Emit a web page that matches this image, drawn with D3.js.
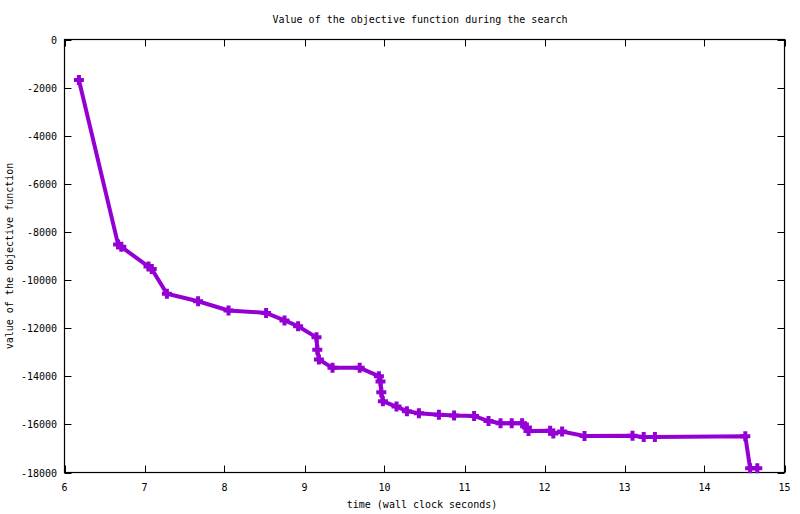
<!DOCTYPE html>
<html>
<head>
<meta charset="utf-8">
<script src="https://cdn.jsdelivr.net/npm/d3@7"></script>
<style>
body{margin:0;background:#fff;}
text{font-family:"DejaVu Sans Mono",monospace;font-size:10px;fill:#000;}
</style>
</head>
<body>
<svg id="chart" width="800" height="514"></svg>
<script>
const timeValues = [6.18, 6.67, 6.71, 7.05, 7.09, 7.28, 7.67, 8.05, 8.52, 8.75, 8.92, 9.15, 9.16, 9.18, 9.35, 9.69, 9.93, 9.95, 9.96, 9.98, 10.15, 10.28, 10.43, 10.68, 10.87, 11.12, 11.30, 11.45, 11.59, 11.72, 11.78, 11.80, 12.07, 12.11, 12.22, 12.50, 13.10, 13.24, 13.38, 14.51, 14.57, 14.66];
const objectiveValues = [-1680, -8520, -8620, -9440, -9540, -10570, -10880, -11265, -11365, -11680, -11920, -12380, -12900, -13300, -13650, -13650, -14000, -14220, -14660, -15040, -15260, -15450, -15540, -15600, -15630, -15650, -15860, -15950, -15950, -15950, -16130, -16280, -16260, -16380, -16300, -16480, -16470, -16520, -16520, -16490, -17820, -17820];
const xTicks = [6, 7, 8, 9, 10, 11, 12, 13, 14, 15];
const yTicks = [0, -2000, -4000, -6000, -8000, -10000, -12000, -14000, -16000, -18000];
const titleText = "Value of the objective function during the search";
const xLabel = "time (wall clock seconds)";
const yLabel = "value of the objective function";

const svg = d3.select("#chart");
const L = 64.5, R = 784.5, T = 39.5, B = 472.5;
const x = d3.scaleLinear().domain([6, 15]).range([L, R]);
const y = d3.scaleLinear().domain([-18000, 0]).range([B, T]);
const color = "#9400D3";
const tl = 7;

const g = svg.append("g");
// frame
g.append("rect").attr("x", L).attr("y", T).attr("width", R - L).attr("height", B - T)
  .attr("fill", "none").attr("stroke", "#000").attr("stroke-width", 1.2);

// x ticks (bottom & top, inward)
xTicks.forEach(t => {
  const px = Math.round(x(t)) + 0.5;
  g.append("line").attr("x1", px).attr("x2", px).attr("y1", B).attr("y2", B - tl).attr("stroke", "#000");
  g.append("line").attr("x1", px).attr("x2", px).attr("y1", T).attr("y2", T + tl).attr("stroke", "#000");
  g.append("text").attr("x", x(t)).attr("y", B + 18).attr("text-anchor", "middle").text(t);
});
// y ticks (left & right, inward)
yTicks.forEach(t => {
  const py = Math.round(y(t)) + 0.5;
  g.append("line").attr("x1", L).attr("x2", L + tl).attr("y1", py).attr("y2", py).attr("stroke", "#000");
  g.append("line").attr("x1", R).attr("x2", R - tl).attr("y1", py).attr("y2", py).attr("stroke", "#000");
  g.append("text").attr("x", 57).attr("y", y(t) + 4).attr("text-anchor", "end").text(t === 0 ? "0" : "-" + Math.abs(t));
});

// labels
svg.append("text").attr("x", 420).attr("y", 23).attr("text-anchor", "middle").text(titleText);
svg.append("text").attr("x", 422).attr("y", 508).attr("text-anchor", "middle").text(xLabel);
svg.append("text").attr("transform", "translate(13,256) rotate(-90)").attr("text-anchor", "middle").text(yLabel);

// data
const data = timeValues.map((t, i) => ({t: t, v: objectiveValues[i]}));
const line = d3.line().x(d => x(d.t)).y(d => y(d.v));
svg.append("path").datum(data).attr("d", line).attr("fill", "none")
  .attr("stroke", color).attr("stroke-width", 4).attr("stroke-linejoin", "miter");

const m = 5;
const marks = svg.append("g");
data.forEach(d => {
  const cx = x(d.t), cy = y(d.v);
  marks.append("path")
    .attr("d", `M${cx - m},${cy}H${cx + m}M${cx},${cy - m}V${cy + m}`)
    .attr("stroke", color).attr("stroke-width", 4).attr("fill", "none");
});
</script>
</body>
</html>
